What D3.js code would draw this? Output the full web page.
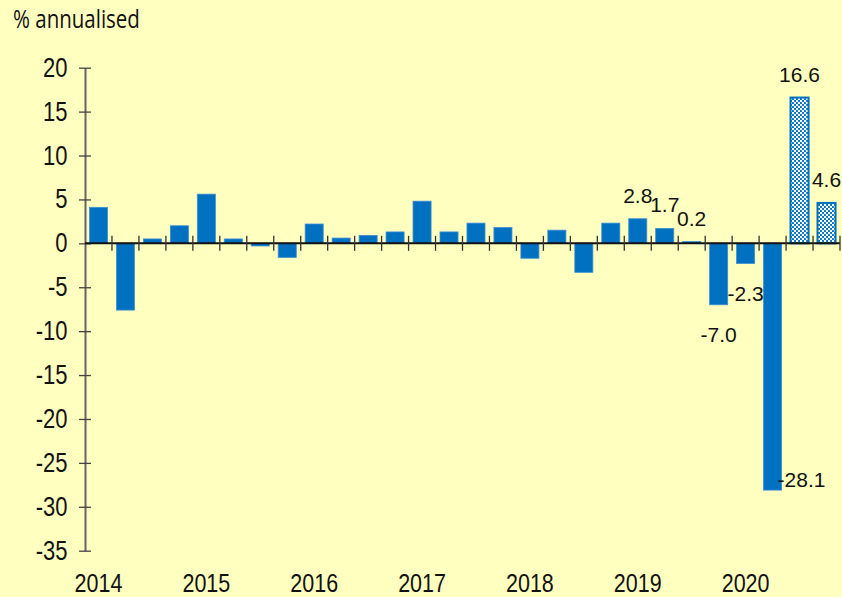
<!DOCTYPE html>
<html lang="en">
  <head>
    <meta charset="UTF-8" />
    <title>% annualised</title>
    <script src="https://d3js.org/d3.v7.min.js"></script>
    <style>
      body { margin: 0; background: #ffffbf; }
      text { font-family: "Liberation Sans", Arial, sans-serif; fill: #111; }
    </style>
  </head>
  <body>
    <svg width="842" height="597"></svg>
    <script>
      // quarterly data, 2014 Q1 - 2020 Q4
      const years = ["2014", "2015", "2016", "2017", "2018", "2019", "2020"];
      const quarters = years.flatMap((y) => ["Q1", "Q2", "Q3", "Q4"].map((q) => y + q));
      const values = [
        4.1, -7.6, 0.5, 2.0, 5.6, 0.5, -0.3, -1.6,
        2.2, 0.6, 0.9, 1.3, 4.8, 1.3, 2.3, 1.8,
        -1.7, 1.5, -3.3, 2.3, 2.8, 1.7, 0.2, -7.0,
        -2.3, -28.1, 16.6, 4.6
      ];
      // forecast quarters drawn with the dotted fill
      const forecast = ["2020Q3", "2020Q4"];
      // labelled bars and where the label sits
      const labelled = ["2019Q1", "2019Q2", "2019Q3", "2019Q4", "2020Q1", "2020Q2", "2020Q3", "2020Q4"];
      const labelPos = ["above", "above", "above", "below", "below", "right", "above", "above"];
      const yTicks = [20, 15, 10, 5, 0, -5, -10, -15, -20, -25, -30, -35];

      const data = quarters.map((q, i) => ({ q, v: values[i] }));

      const svg = d3.select("svg");
      const stretch = 1.24; // axis text in the original is drawn taller than wide
      const locale = d3.formatLocale({ decimal: ".", thousands: ",", grouping: [3], currency: ["", ""], minus: "-" });

      svg.append("rect").attr("width", 842).attr("height", 597).attr("fill", "#ffffbf");

      const defs = svg.append("defs");
      const pat = defs.append("pattern")
        .attr("id", "dots")
        .attr("patternUnits", "userSpaceOnUse")
        .attr("width", 4)
        .attr("height", 4);
      pat.append("rect").attr("width", 4).attr("height", 4).attr("fill", "#0070c0");
      pat.append("circle").attr("cx", 1).attr("cy", 1).attr("r", 1.2).attr("fill", "#fff");
      pat.append("circle").attr("cx", 3).attr("cy", 3).attr("r", 1.2).attr("fill", "#fff");

      const x = d3.scaleBand()
        .domain(quarters)
        .range([85, 840])
        .paddingInner(0.33)
        .paddingOuter(0.165);

      const y = d3.scaleLinear().domain([-35, 20]).range([550.7, 67.7]);

      // title
      svg.append("text")
        .attr("transform", "translate(13,28) scale(1," + stretch + ")")
        .style("font-family", "'Open Sans', sans-serif")
        .style("font-size", "20.5px")
        .text("% annualised");

      // y axis
      const yAxis = svg.append("g")
        .attr("transform", "translate(85,0)")
        .call(
          d3.axisLeft(y)
            .tickValues(yTicks)
            .tickFormat(locale.format("d"))
            .tickSizeInner(6)
            .tickSizeOuter(0)
        );
      yAxis.select(".domain").attr("stroke", "#666").attr("stroke-width", 2);
      yAxis.selectAll(".tick line").attr("x1", 6).attr("stroke", "#444").attr("stroke-width", 1.3);
      yAxis.selectAll(".tick text")
        .attr("dy", null)
        .attr("y", null)
        .attr("x", null)
        .attr("transform", "translate(-17.5,8.5) scale(1," + stretch + ")")
        .style("font-size", "22px")
        .attr("fill", "#111");

      // bars
      svg.append("g")
        .selectAll("rect")
        .data(data)
        .join("rect")
        .attr("x", (d) => x(d.q))
        .attr("width", x.bandwidth())
        .attr("y", (d) => y(Math.max(0, d.v)))
        .attr("height", (d) => Math.abs(y(d.v) - y(0)))
        .attr("fill", (d) => (forecast.includes(d.q) ? "url(#dots)" : "#0070c0"))
        .attr("stroke", (d) => (forecast.includes(d.q) ? "#0070c0" : "#3d8fd6"))
        .attr("stroke-width", (d) => (forecast.includes(d.q) ? 2 : 0.8));

      // zero line with ticks between quarters
      const step = x.step();
      const edges = quarters.map((q) => x(q) + x.bandwidth() + (step - x.bandwidth()) / 2);
      const xAxis = svg.append("g");
      xAxis.append("line")
        .attr("x1", 85)
        .attr("x2", x.range()[1])
        .attr("y1", y(0))
        .attr("y2", y(0))
        .attr("stroke", "#111")
        .attr("stroke-width", 2);
      xAxis.selectAll(".qtick")
        .data(edges)
        .join("line")
        .attr("class", "qtick")
        .attr("x1", (d) => d)
        .attr("x2", (d) => d)
        .attr("y1", y(0) - 7.5)
        .attr("y2", y(0) + 7.5)
        .attr("stroke", "#333")
        .attr("stroke-width", 1.3);

      // year labels under first quarter
      svg.append("g")
        .selectAll("text")
        .data(years)
        .join("text")
        .attr("text-anchor", "middle")
        .attr("transform", (d) => "translate(" + (x(d + "Q1") + x.bandwidth() / 2) + ",591.5) scale(1," + stretch + ")")
        .style("font-size", "21.5px")
        .text((d) => d);

      // value labels
      const fmt = locale.format(".1f");
      svg.append("g")
        .selectAll("text")
        .data(labelled.map((q, i) => ({ q, v: values[quarters.indexOf(q)], pos: labelPos[i] })))
        .join("text")
        .style("font-size", "21px")
        .attr("text-anchor", (d) => (d.pos === "right" ? "start" : "middle"))
        .attr("x", (d) => (d.pos === "right" ? x(d.q) + x.bandwidth() - 4 : x(d.q) + x.bandwidth() / 2))
        .attr("y", (d) =>
          d.pos === "above" ? y(d.v) - 16 : d.pos === "below" ? y(d.v) + 37 : y(d.v) - 3
        )
        .text((d) => fmt(d.v));
    </script>
  </body>
</html>
